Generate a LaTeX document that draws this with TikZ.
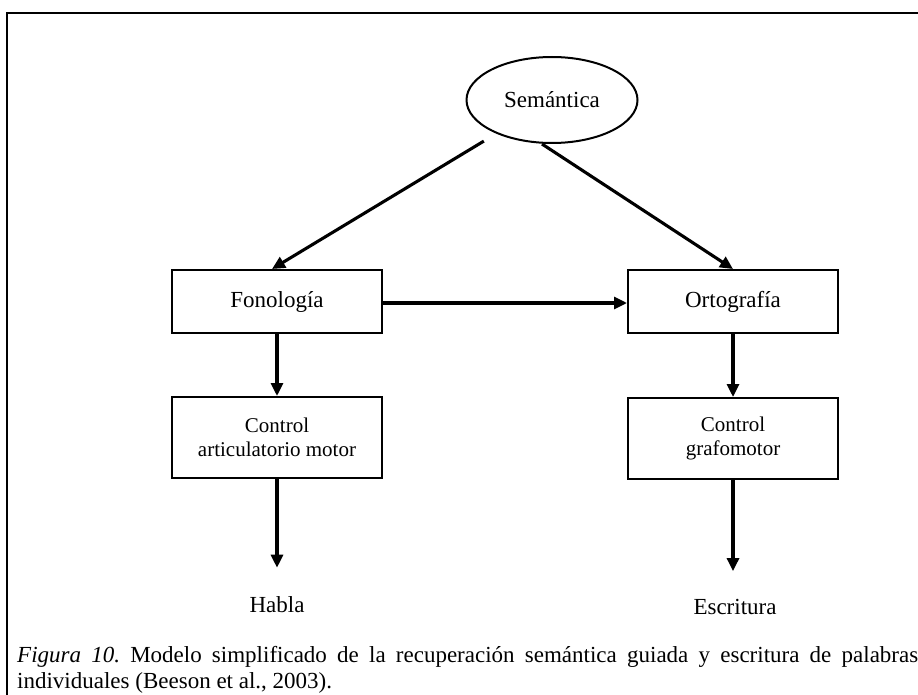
\documentclass[tikz,border=0pt]{standalone}
\usepackage{fontspec}
\setmainfont{Liberation Serif}
\usetikzlibrary{arrows.meta,shapes}
\tikzstyle{caja} = [draw, rectangle, line width=2pt, minimum width=210pt, inner sep=0pt]
\tikzstyle{elipse} = [draw, ellipse, line width=2pt, minimum width=171pt, minimum height=86pt]
\tikzstyle{salida} = [inner sep=0pt]
\tikzstyle{flecha} = [->, line width=3.1pt]

\begin{document}
\begin{tikzpicture}[x=1pt, y=-1pt, node distance=456pt,
    >={Triangle[length=13pt,width=12pt]},
    font=\fontsize{23}{26}\selectfont]
    % fijar el marco de la figura
    \useasboundingbox (0,0) rectangle (918,695);
    \draw[line width=2.4pt] (7,695) -- (7,13) -- (918,13);

    \node [elipse] (semantica) at (552,100) {Sem\'antica};
    \node [caja, minimum height=63pt] (fonologia) at (277,301.5) {Fonolog\'ia};
    \node [caja, minimum height=63pt, right of=fonologia] (ortografia) {Ortograf\'ia};

    \node [caja, minimum height=81pt, align=center, font=\fontsize{21}{24}\selectfont]
        (articulatorio) at (277,437.5) {Control\\articulatorio motor};
    \node [caja, minimum height=81pt, align=center, font=\fontsize{21}{24}\selectfont]
        (grafomotor) at (733,438.5) {Control\\grafomotor};

    \node [salida] (habla) at (277,605) {Habla};
    \node [salida] (escritura) at (735,607) {Escritura};

    % conexiones entre los modulos
    \draw [flecha] ([shift={(-7,10)}]semantica.south west) -- ([xshift=-5pt]fonologia.north);
    \draw [flecha] ([xshift=-10pt]semantica.south) -- (ortografia.north);
    \draw [flecha] ([yshift=-1.5pt]fonologia.east) -- ([yshift=-1.5pt]ortografia.west);
    \draw [flecha] (fonologia) -- (articulatorio);
    \draw [flecha] (ortografia) -- (grafomotor);
    \draw [flecha, shorten >=29pt] (articulatorio) -- (habla.north);
    \draw [flecha, shorten >=28pt] (grafomotor) -- (grafomotor |- escritura.north);

    \node [anchor=north west, text width=901pt, align=justify, inner sep=0pt] (pie) at (17,646)
        {\frenchspacing\textit{Figura 10.} Modelo simplificado de la recuperaci\'on sem\'antica guiada y escritura de palabras\linebreak individuales (Beeson et al., 2003).};
\end{tikzpicture}
\end{document}
